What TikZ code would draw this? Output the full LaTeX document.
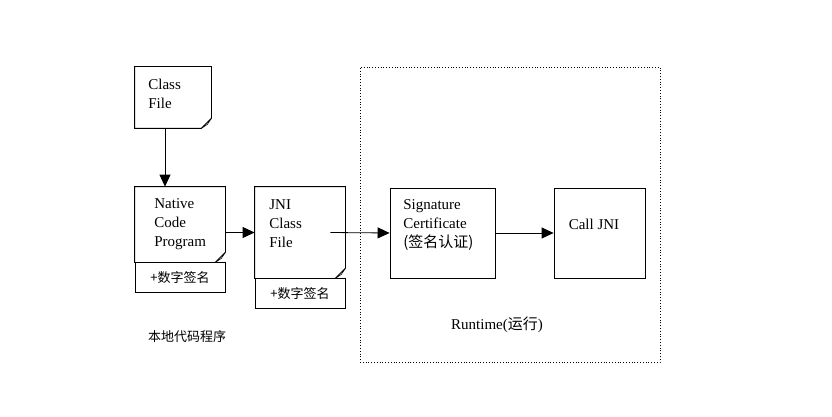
\documentclass[tikz,border=0pt]{standalone}
\usepackage{fontspec}
\setmainfont{Liberation Serif}
\newfontfamily\cjk{Noto Sans CJK SC}
\usetikzlibrary{arrows.meta}

\begin{document}
\begin{tikzpicture}[x=1pt,y=-1pt,line width=0.8pt,
  >={Triangle[length=12pt,width=11pt]},
  page/.style={inner sep=0pt},
  box/.style={draw,inner sep=0pt},
  part/.style={draw,minimum width=90pt,minimum height=30pt,inner sep=0pt,font=\cjk\fontsize{13}{13}\selectfont},
  txt/.style={align=left,inner sep=0pt,font=\fontsize{15}{19}\selectfont},
  cjktxt/.style={inner sep=0pt,font=\cjk\fontsize{13}{13}\selectfont}]

  \useasboundingbox (0,0) rectangle (832,417);

  \node[draw,dotted,minimum width=300pt,minimum height=295pt] (runtime) at (510,214.5) {};

  \node[page,minimum width=76pt,minimum height=61pt] (classfile) at (173,97.5) {};
  \node[page,minimum width=90pt,minimum height=75pt] (native) at (180,224.5) {};
  \node[part] (nativesig) at (180,277.5) {+数字签名};
  \node[page,minimum width=90pt,minimum height=91pt] (jni) at (300,232.5) {};
  \node[part] (jnisig) at (300,293.5) {+数字签名};
  \node[box,minimum width=105pt,minimum height=90pt] (sig) at (442.5,233) {};
  \node[box,minimum width=91pt,minimum height=90pt] (calljni) at (599.5,233) {};

  % page outlines with folded corner
  \foreach \n in {classfile,native,jni} {
    \draw (\n.north west) -- (\n.north east) -- ([yshift=10pt]\n.south east)
      -- ([xshift=-10pt]\n.south east) -- (\n.south west) -- cycle;
    \filldraw[fill=gray!40,line width=0.5pt] ([yshift=10pt]\n.south east)
      -- ([xshift=-10pt]\n.south east) -- ([xshift=-4pt,yshift=4pt]\n.south east) -- cycle;
  }

  \node[txt,anchor=west] (classtxt) at (148,94) {Class\\File};
  \node[txt,anchor=west] (nativetxt) at (154,224) {Native\\Code\\Program};
  \node[txt,anchor=west] (jnitxt) at (269,224) {JNI\\Class\\File};
  \node[txt,anchor=west] (sigtxt) at (403,225) {Signature\\Certificate\\{\cjk (签名认证)}};
  \node[txt] (calltxt) at (594,224) {Call JNI};
  \node[txt] (runtimetxt) at (497,325) {Runtime({\cjk 运行})};
  \node[cjktxt] (localtxt) at (187,337) {本地代码程序};

  \path[->]
    ([xshift=-8pt]classfile.south) edge ([xshift=-8pt]classfile.south |- native.north)
    (native.east |- jni.west) edge (jni.west)
    ([xshift=-15pt]jni.east) edge (sig.west)
    (sig.east) edge (calljni.west)
    ;
\end{tikzpicture}
\end{document}
